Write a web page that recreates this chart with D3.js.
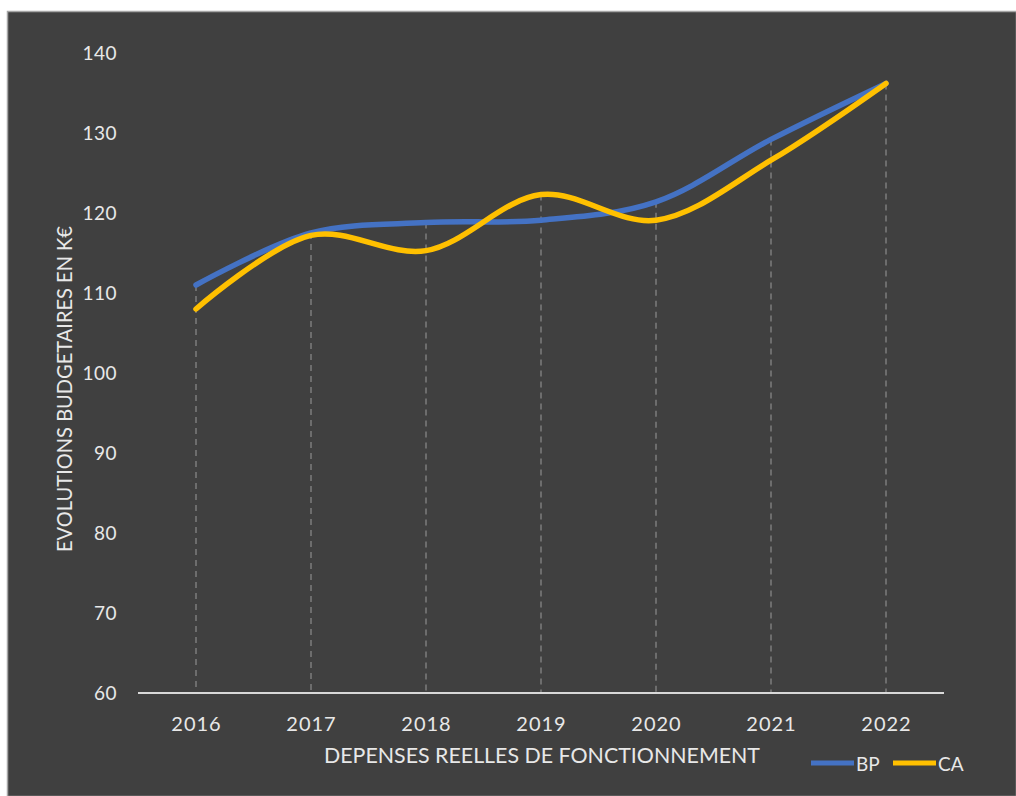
<!DOCTYPE html>
<html>
<head>
<meta charset="utf-8">
<script src="https://cdn.jsdelivr.net/npm/d3@7"></script>
<style>
  html, body { margin: 0; padding: 0; background: #ffffff; }
  svg { display: block; }
</style>
</head>
<body>
<svg id="chart" width="1016" height="796"></svg>
<script>
// Budget evolution, operating expenses (k€)
const years = ["2016", "2017", "2018", "2019", "2020", "2021", "2022"];
const bpValues = [111.0, 117.5, 118.8, 119.1, 121.4, 129.2, 136.2];
const caValues = [108.0, 117.2, 115.3, 122.3, 119.1, 126.6, 136.2];
const yTicks = [60, 70, 80, 90, 100, 110, 120, 130, 140];
const seriesNames = ["BP", "CA"];
const seriesColors = ["#4472c4", "#ffc000"];

const svg = d3.select("#chart");
const W = 1016, H = 796;
const font = "Lato, 'Open Sans', sans-serif";
const textColor = "#e8e8e8";

// panel background with thin frame
svg.append("rect").attr("x", 7.5).attr("y", 11.5).attr("width", W - 7).attr("height", H - 11)
  .attr("fill", "#404040").attr("stroke", "#a6a6a6").attr("stroke-width", 1.5);

const x = d3.scalePoint().domain(years).range([196, 886]);
const y = d3.scaleLinear().domain([60, 140]).range([693, 53]);

// drop lines from the highest point of each year down to the axis
const dropG = svg.append("g");
years.forEach((yr, i) => {
  const top = Math.max(bpValues[i], caValues[i]);
  dropG.append("line")
    .attr("x1", x(yr)).attr("x2", x(yr))
    .attr("y1", y(top)).attr("y2", y(60))
    .attr("stroke", "#8c8c8c").attr("stroke-width", 1.2)
    .attr("stroke-dasharray", "6,5");
});

// y axis labels (no axis line)
const yAxis = d3.axisLeft(y).tickValues(yTicks).tickSize(0).tickPadding(0);
const yG = svg.append("g").attr("transform", "translate(117,0)").call(yAxis);
yG.select(".domain").remove();
yG.selectAll("text").attr("fill", textColor)
  .style("font-family", font).style("font-size", "19px").style("letter-spacing", "0.5px");

// x axis line and labels
svg.append("line").attr("x1", 138).attr("x2", 944).attr("y1", y(60)).attr("y2", y(60))
  .attr("stroke", "#d9d9d9").attr("stroke-width", 2);
const xAxis = d3.axisBottom(x).tickSize(0).tickPadding(0);
const xG = svg.append("g").attr("transform", `translate(0,${y(60) + 38})`).call(xAxis);
xG.select(".domain").remove();
xG.selectAll("text").attr("fill", textColor).attr("dy", 0)
  .style("font-family", font).style("font-size", "20px").style("letter-spacing", "1px");

// series lines, smoothed
const line = d3.line()
  .x((d, i) => x(years[i]))
  .y(d => y(d))
  .curve(d3.curveCatmullRom.alpha(0.5));

[bpValues, caValues].forEach((vals, k) => {
  svg.append("path").datum(vals)
    .attr("d", line)
    .attr("fill", "none")
    .attr("stroke", seriesColors[k])
    .attr("stroke-width", 5.5)
    .attr("stroke-linecap", "round");
});

// axis titles
svg.append("text")
  .attr("transform", "translate(72,389) rotate(-90)")
  .attr("text-anchor", "middle")
  .attr("fill", textColor)
  .attr("textLength", 326).attr("lengthAdjust", "spacingAndGlyphs")
  .style("font-family", font).style("font-size", "21px")
  .text("EVOLUTIONS BUDGETAIRES EN K€");

svg.append("text")
  .attr("x", 542).attr("y", 763)
  .attr("text-anchor", "middle")
  .attr("fill", textColor)
  .attr("textLength", 436).attr("lengthAdjust", "spacingAndGlyphs")
  .style("font-family", font).style("font-size", "21px")
  .text("DEPENSES REELLES DE FONCTIONNEMENT");

// legend
const legendX = [811, 893];
seriesNames.forEach((name, k) => {
  const g = svg.append("g").attr("transform", `translate(${legendX[k]},763)`);
  g.append("line").attr("x1", 0).attr("x2", 43).attr("y1", 0).attr("y2", 0)
    .attr("stroke", seriesColors[k]).attr("stroke-width", 5);
  g.append("text").attr("x", 45).attr("y", 8).attr("fill", textColor)
    .style("font-family", font).style("font-size", "19px")
    .text(name);
});
</script>
</body>
</html>
